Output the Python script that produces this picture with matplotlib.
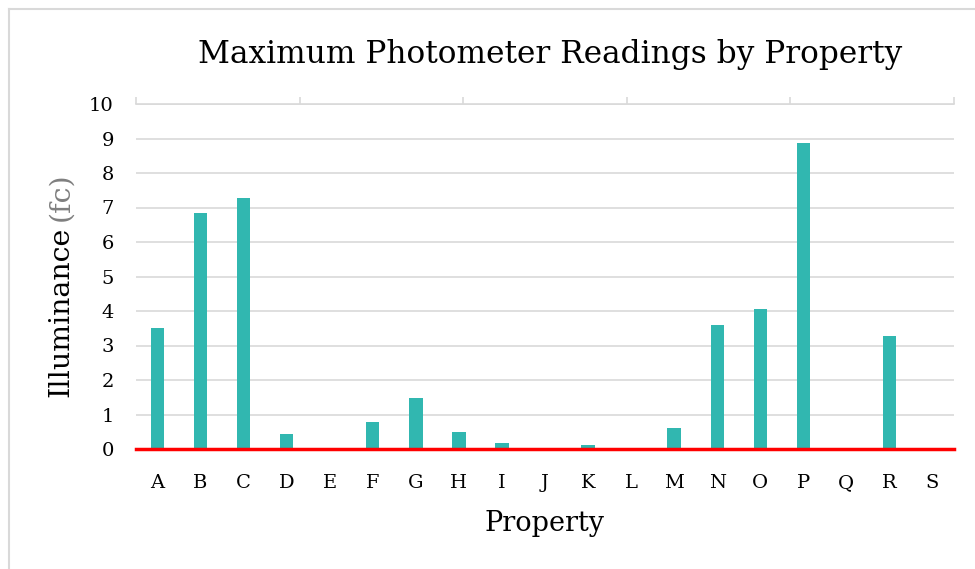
import numpy as np
import matplotlib
matplotlib.use("Agg")
import matplotlib.pyplot as plt
from matplotlib.lines import Line2D

# data
properties = ["A", "B", "C", "D", "E", "F", "G", "H", "I", "J",
              "K", "L", "M", "N", "O", "P", "Q", "R", "S"]
max_fc = [3.5, 6.85, 7.28, 0.44, 0.0, 0.79, 1.47, 0.5, 0.18, 0.0,
          0.12, 0.0, 0.6, 3.58, 4.05, 8.86, 0.0, 3.27, 0.0]
yticks = list(range(0, 11))

plt.rcParams["font.family"] = "DejaVu Serif"

W, H = 975, 569
fig = plt.figure(figsize=(W / 100, H / 100), dpi=100)
ax = fig.add_axes([136 / W, 1 - 449 / H, (954 - 136) / W, (449 - 104) / H])

x = np.arange(len(properties))
ax.bar(x, max_fc, width=0.31, color="#31b7b0", zorder=3)
ax.axhline(0, color="#ff0000", lw=2.5, zorder=4, clip_on=False)

ax.set_xlim(-0.5, len(properties) - 0.5)
ax.set_ylim(0, 10)
ax.set_yticks(yticks)
ax.set_xticks(x)
ax.set_xticklabels(properties)
ax.tick_params(axis="both", length=0, labelsize=14)
ax.tick_params(axis="x", pad=18)
ax.tick_params(axis="y", pad=16)
ax.grid(axis="y", color="#d9d9d9", lw=1.2, zorder=0)
for s in ax.spines.values():
    s.set_visible(False)

# top axis with the little upward ticks seen on the 10 line
top = ax.twiny()
top.set_xlim(0, 1)
top.set_xticks(np.linspace(0, 1, 6))
top.set_xticklabels([])
top.tick_params(axis="x", direction="out", length=5, color="#d9d9d9", width=1.2)
for s in ["left", "right", "bottom"]:
    top.spines[s].set_visible(False)
top.spines["top"].set_color("#d9d9d9")
top.spines["top"].set_linewidth(1.2)

ax.set_xlabel("Property", fontsize=19.5, labelpad=13)

fig.text(550 / W, 1 - 55 / H, "Maximum Photometer Readings by Property",
         fontsize=22.5, ha="center", va="center")

# y label with grey unit
t1 = fig.text(61 / W, 1 - 397 / H, "Illuminance", fontsize=20.5,
              rotation=90, ha="center", va="bottom")
fig.canvas.draw()
bb = t1.get_window_extent()
fig.text(61 / W, (bb.y1 + 6) / H, "(fc)", fontsize=20.5, color="#7f7f7f",
         rotation=90, ha="center", va="bottom")

# outer chart border (left and top only visible)
fig.add_artist(Line2D([9 / W, 9 / W], [0, 1 - 9 / H], transform=fig.transFigure,
                      color="#d9d9d9", lw=1.5))
fig.add_artist(Line2D([9 / W, 1], [1 - 9 / H, 1 - 9 / H], transform=fig.transFigure,
                      color="#d9d9d9", lw=1.5))

fig.savefig("out.png", dpi=100)
